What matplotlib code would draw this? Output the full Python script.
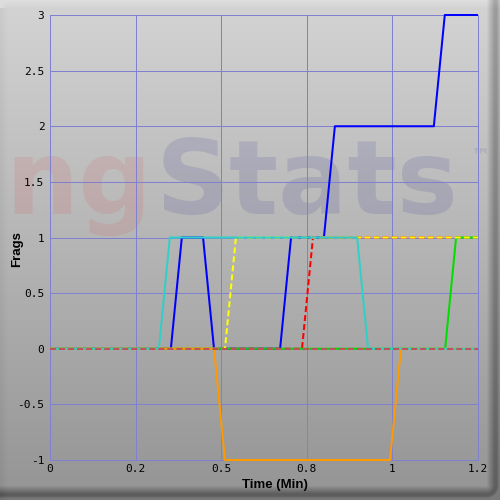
import numpy as np
import matplotlib
matplotlib.use("Agg")
import matplotlib.pyplot as plt

plt.rcParams['lines.scale_dashes'] = False

# ---------------- data (time in minutes, frags) ----------------
x_ticks = [0, 0.25, 0.5, 0.75, 1.0, 1.25]
x_tick_labels = ["0", "0.2", "0.5", "0.8", "1", "1.2"]
y_ticks = [-1, -0.5, 0, 0.5, 1, 1.5, 2, 2.5, 3]
y_tick_labels = ["-1", "-0.5", "0", "0.5", "1", "1.5", "2", "2.5", "3"]

blue_t = [0, 0.353, 0.385, 0.447, 0.479, 0.672, 0.704, 0.800, 0.832, 1.121, 1.153, 1.25]
blue_v = [0, 0, 1, 1, 0, 0, 1, 1, 2, 2, 3, 3]
red_t = [0, 0.736, 0.768, 1.25]
red_v = [0, 0, 1, 1]
green_t = [0, 1.154, 1.186, 1.25]
green_v = [0, 0, 1, 1]
yellow_t = [0, 0.511, 0.543, 1.25]
yellow_v = [0, 0, 1, 1]
orange_t = [0, 0.479, 0.511, 0.993, 1.025, 1.25]
orange_v = [0, 0, -1, -1, 0, 0]
cyan_t = [0, 0.318, 0.350, 0.897, 0.929, 1.25]
cyan_v = [0, 0, 1, 1, 0, 0]
maroon_t = [0, 1.25]
maroon_v = [0, 0]

# ---------------- figure & background ----------------
W = H = 500
fig = plt.figure(figsize=(5, 5), dpi=100)

yy, xx = np.mgrid[0:H, 0:W].astype(float)
base = 212.0 - 64.0 * (yy / H)
right, bottom, left, top = 486.0, 485.0, 8.0, 8.0
dxr = np.maximum(xx - right, 0)
dyb = np.maximum(yy - bottom, 0)
t = np.clip(np.hypot(dxr, dyb) / 13.0, 0, 1)
dark = 55 * np.clip(t * 1.6, 0, 1) * (1 - 0.5 * np.clip((t - 0.8) / 0.2, 0, 1))
dxl = np.maximum(left - xx, 0)
dyt = np.maximum(top - yy, 0)
tl = np.clip(np.hypot(dxl, dyt) / 8.0, 0, 1)
light = 10 * tl
img = np.clip(base - dark + light * np.where(yy < top, 1, -0.8), 0, 255) / 255.0
rgb = np.dstack([img, img, img])
fig.figimage(rgb, xo=0, yo=0, origin='upper', zorder=-3)

# watermark
fig.text(152 / W, 1 - 214 / H, "ng", fontsize=74, fontweight='bold',
         family='DejaVu Sans', color='#e03030', alpha=0.11,
         ha='right', va='baseline', zorder=-2)
fig.text(156 / W, 1 - 214 / H, "Stats", fontsize=74, fontweight='bold',
         family='DejaVu Sans', color='#303090', alpha=0.14,
         ha='left', va='baseline', zorder=-2)
fig.text(470 / W, 1 - 162 / H, "™", fontsize=14, fontweight='bold',
         family='DejaVu Sans', color='#303090', alpha=0.12,
         ha='left', va='baseline', zorder=-2)

# ---------------- axes ----------------
ax = fig.add_axes([50 / W, 40 / H, 428 / W, 445 / H])
ax.set_facecolor('none')
ax.set_xlim(0, 1.25)
ax.set_ylim(-1, 3)
grid_c = '#8080d0'
for s in ax.spines.values():
    s.set_color(grid_c)
    s.set_linewidth(0.72)
ax.set_xticks(x_ticks)
ax.set_xticklabels(x_tick_labels)
ax.set_yticks(y_ticks)
ax.set_yticklabels(y_tick_labels)
ax.tick_params(length=0, labelsize=8, labelcolor='black')
ax.tick_params(axis='y', pad=4)
ax.tick_params(axis='x', pad=3)
for lab in ax.get_xticklabels() + ax.get_yticklabels():
    lab.set_family('DejaVu Sans Mono')
ax.grid(True, color=grid_c, linewidth=0.72)
ax.set_axisbelow(True)

lw = 1.45
dash = (0, (4.3, 2.2))
kw = dict(lw=lw, clip_on=False, solid_capstyle='butt', dash_capstyle='butt')
ax.plot(blue_t, blue_v, color='#0000ff', zorder=3, **kw)
ax.plot(red_t, red_v, color='#ff0000', linestyle=dash, zorder=4, **kw)
ax.plot(green_t, green_v, color='#00dd00', zorder=5, **kw)
ax.plot(yellow_t, yellow_v, color='#ffff00', linestyle=dash, zorder=6, **kw)
ax.plot(orange_t, orange_v, color='#ff9900', zorder=7, **kw)
ax.plot(cyan_t, cyan_v, color='#30d0c8', zorder=8, **kw)
ax.plot(maroon_t, maroon_v, color='#c0505a', linestyle=dash, zorder=9, **kw)

fig.text(275 / W, 1 - 485 / H, "Time (Min)", fontsize=9.5, fontweight='bold',
         family='Liberation Sans', ha='center', va='center')
fig.text(17.5 / W, 1 - 249 / H, "Frags", fontsize=9.5, fontweight='bold',
         family='Liberation Sans', ha='center', va='center', rotation=90)

fig.savefig("out.png", dpi=100)
